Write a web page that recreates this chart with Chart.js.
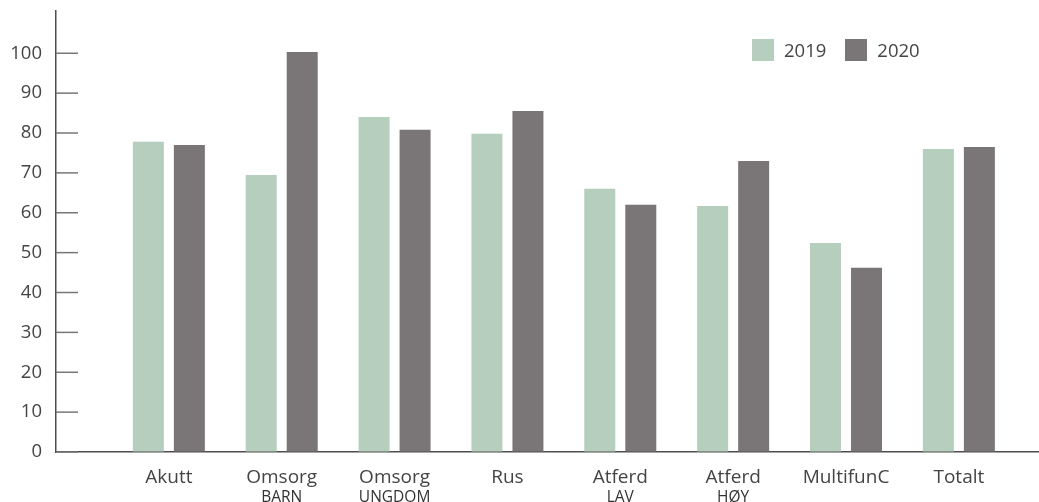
<!DOCTYPE html>
<html>
<head>
<meta charset="utf-8">
<script src="https://cdn.jsdelivr.net/npm/chart.js@4.4.1/dist/chart.umd.min.js"></script>
<style>
  html, body { margin: 0; padding: 0; background: #fff; overflow: hidden; }
  #wrap { position: relative; width: 1039px; height: 502px; }
  canvas { display: block; }
  #legend { position: absolute; left: 752px; top: 39px; display: flex; align-items: center;
            font-family: "Open Sans", sans-serif; font-size: 18.5px; color: #444; line-height: 22px; }
  .item { display: flex; align-items: center; margin-right: 19px; }
  .box { width: 22px; height: 22px; margin-right: 10px; }
</style>
</head>
<body>
<div id="wrap">
  <canvas id="c" width="1039" height="502"></canvas>
  <div id="legend"></div>
</div>
<script>
const categories = ['Akutt', 'Omsorg', 'Omsorg', 'Rus', 'Atferd', 'Atferd', 'MultifunC', 'Totalt'];
const subLabels  = ['', 'BARN', 'UNGDOM', '', 'LAV', 'HØY', '', ''];
const values2019 = [77.8, 69.5, 84.0, 79.8, 66.0, 61.7, 52.4, 76.0];
const values2020 = [77.0, 100.3, 80.8, 85.5, 62.0, 73.0, 46.2, 76.5];
const yTickValues = [0, 10, 20, 30, 40, 50, 60, 70, 80, 90, 100];
const seriesNames = ['2019', '2020'];
const seriesColors = ['#b5cebe', '#7a7677'];

const FONT = 'Open Sans';
const toPoints = vals => vals.map((v, i) => ({ x: i + 1, y: v }));
const catTicks = () => categories.map((c, i) => ({ value: i + 1 }));

// draws the y-axis tick marks inward (to the right of the axis line)
const inwardTicks = {
  id: 'inwardTicks',
  afterDraw(chart) {
    const y = chart.scales.y;
    const ctx = chart.ctx;
    ctx.save();
    ctx.strokeStyle = '#777';
    ctx.lineWidth = 1.5;
    y.ticks.forEach(t => {
      const py = y.getPixelForValue(t.value);
      ctx.beginPath();
      ctx.moveTo(y.right, py);
      ctx.lineTo(y.right + 22, py);
      ctx.stroke();
    });
    ctx.restore();
  }
};

const chart = new Chart(document.getElementById('c'), {
  type: 'bar',
  data: {
    datasets: [
      { label: seriesNames[0], data: toPoints(values2019), backgroundColor: seriesColors[0], xAxisID: 'x', yAxisID: 'y' },
      { label: seriesNames[1], data: toPoints(values2020), backgroundColor: seriesColors[1], xAxisID: 'x', yAxisID: 'y' }
    ]
  },
  plugins: [inwardTicks],
  options: {
    responsive: false,
    animation: false,
    devicePixelRatio: 1,
    categoryPercentage: 0.7266,
    barPercentage: 0.756,
    layout: { padding: { top: 11, left: 0, right: 0, bottom: 0 } },
    plugins: { legend: { display: false }, tooltip: { enabled: false } },
    scales: {
      x: {
        type: 'linear', position: 'bottom', weight: 0, offset: false,
        min: 0, max: 8.71,
        afterBuildTicks: s => { s.ticks = catTicks(); },
        afterFit: s => { s.height = 36; s.paddingLeft = 0; s.paddingRight = 0; },
        grid: { display: false, drawTicks: false },
        border: { display: true, color: '#4d4d4d', width: 1.5 },
        ticks: {
          padding: 14, maxRotation: 0, autoSkip: false,
          font: { family: FONT, size: 19 }, color: '#444',
          callback: v => categories[v - 1] || ''
        }
      },
      x2: {
        type: 'linear', position: 'bottom', weight: 1, offset: false,
        min: 0, max: 8.71,
        afterBuildTicks: s => { s.ticks = catTicks(); },
        afterFit: s => { s.height = 14; s.paddingLeft = 0; s.paddingRight = 0; },
        grid: { display: false, drawTicks: false },
        border: { display: false },
        ticks: {
          padding: 0, maxRotation: 0, autoSkip: false,
          font: { family: FONT, size: 15.5 }, color: '#333',
          callback: v => subLabels[v - 1] || ''
        }
      },
      y: {
        type: 'linear', position: 'left',
        min: 0, max: 110.6,
        afterBuildTicks: s => { s.ticks = yTickValues.map(v => ({ value: v })); },
        afterFit: s => { s.width = 56; s.paddingTop = 0; s.paddingBottom = 0; },
        grid: { display: true, drawOnChartArea: false, drawTicks: false },
        border: { display: true, color: '#4d4d4d', width: 1.5 },
        ticks: {
          padding: 14,
          font: { family: FONT, size: 18.5 }, color: '#444'
        }
      }
    }
  }
});

// HTML legend built from dataset names/colours
const legend = document.getElementById('legend');
chart.data.datasets.forEach(ds => {
  const item = document.createElement('div');
  item.className = 'item';
  const box = document.createElement('div');
  box.className = 'box';
  box.style.background = ds.backgroundColor;
  const txt = document.createElement('span');
  txt.textContent = ds.label;
  item.appendChild(box);
  item.appendChild(txt);
  legend.appendChild(item);
});
</script>
</body>
</html>
